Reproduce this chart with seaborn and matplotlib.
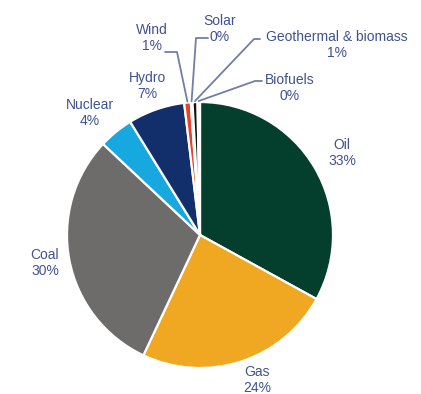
import numpy as np
import matplotlib
matplotlib.use('Agg')
import matplotlib.pyplot as plt
import seaborn as sns

# Energy mix shares (%), clockwise from 12 o'clock
sources = ['Oil', 'Gas', 'Coal', 'Nuclear', 'Hydro', 'Wind', 'Solar',
           'Geothermal & biomass', 'Biofuels']
shares = [33.0, 24.0, 30.0, 4.2, 6.9, 0.8, 0.2, 0.6, 0.3]
share_labels = ['33%', '24%', '30%', '4%', '7%', '1%', '0%', '1%', '0%']
colors = ['#033f2c', '#f0a823', '#6e6b6b', '#17a8df', '#132f6b',
          '#e5432f', '#f4f1ea', '#111111', '#d8d8d0']

sns.set_style("white")
plt.rcParams['font.family'] = ['Liberation Sans', 'DejaVu Sans']

W, H = 421, 394
fig = plt.figure(figsize=(W / 100, H / 100), dpi=100)
ax = fig.add_axes([0, 0, 1, 1])

cx, cy, r = 200, H - 235, 133
wedges, _ = ax.pie(shares, colors=colors, startangle=90, counterclock=False,
                   center=(cx, cy), radius=r, frame=True,
                   wedgeprops=dict(edgecolor='white', linewidth=1.6))
ax.set_xlim(0, W)
ax.set_ylim(0, H)
ax.set_aspect('equal')
ax.axis('off')

txt_color = '#40528f'
line_color = '#6f7fa8'

# label centres in pixel coords (name line, share line)
label_pos = {
    'Oil': (342, 153),
    'Gas': (257, 380),
    'Coal': (45, 263),
    'Nuclear': (90, 113),
    'Hydro': (147, 86),
    'Wind': (152, 38),
    'Solar': (220, 29),
    'Geothermal & biomass': (337, 45),
    'Biofuels': (290, 88),
}

# leader lines for the small slices: elbow points (pixel coords)
elbows = {
    'Wind': [(165, 52), (177, 52)],
    'Solar': [(208, 38), (196, 38)],
    'Geothermal & biomass': [(260, 39), (254, 39)],
    'Biofuels': [(262, 81), (255, 81)],
}

for w, name, lab in zip(wedges, sources, share_labels):
    lx, ly = label_pos[name]
    ax.text(lx, H - ly, f'{name}\n{lab}', ha='center', va='center',
            fontsize=10, color=txt_color, linespacing=1.2)
    if name in elbows:
        mid = np.deg2rad((w.theta1 + w.theta2) / 2)
        ex = cx + (r + 1) * np.cos(mid)
        ey = cy + (r + 1) * np.sin(mid)
        pts = [(x, H - y) for x, y in elbows[name]] + [(ex, ey)]
        xs, ys = zip(*pts)
        ax.plot(xs, ys, color=line_color, lw=1.3, zorder=5)

fig.savefig('out.png', dpi=100, facecolor='white')
